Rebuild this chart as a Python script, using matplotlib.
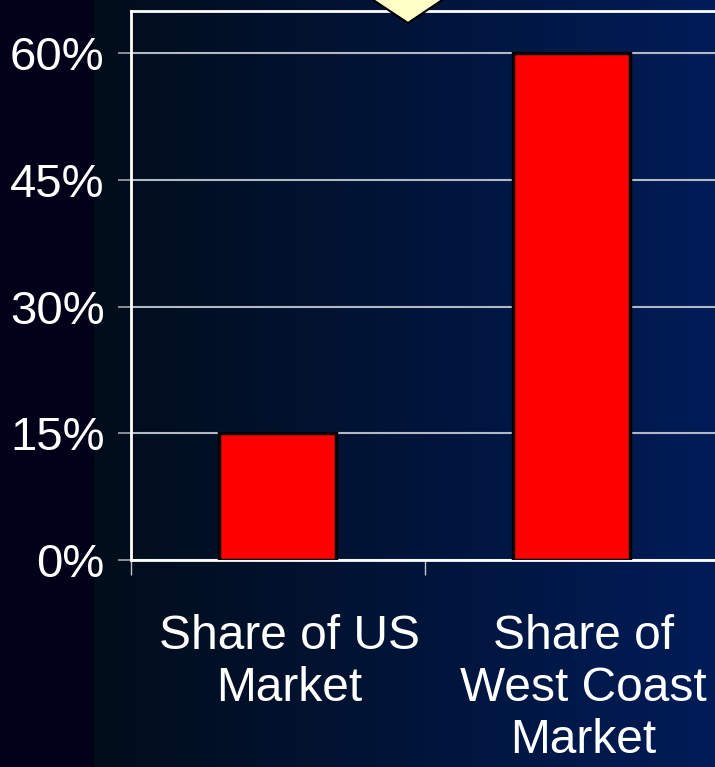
import numpy as np
import matplotlib.pyplot as plt
from matplotlib.patches import Polygon
from matplotlib.transforms import ScaledTranslation

categories = ["Share of US\nMarket", "Share of\nWest Coast\nMarket"]
shares = [15, 60]
yticks = [0, 15, 30, 45, 60]

W, H = 715, 767
plt.rcParams['font.family'] = ['Liberation Sans', 'DejaVu Sans']

fig = plt.figure(figsize=(W / 100, H / 100), dpi=100)

# slide background: dark strip on the left, then a navy gradient
bg = fig.add_axes([0, 0, 1, 1], zorder=-10)
bg.axis('off')
px = np.arange(W)
t = np.clip((px - 94) / (W - 94), 0, 1)
c0 = np.array([0x02, 0x0d, 0x1a]) / 255
c1 = np.array([0x00, 0x1c, 0x58]) / 255
row = c0 + (c1 - c0) * t[:, None]
row[px < 94] = np.array([0x03, 0x00, 0x1a]) / 255
img = np.repeat(row[None, :, :], H, axis=0)
bg.imshow(img, aspect='auto', extent=[0, 1, 0, 1])
bg.set_xlim(0, 1)
bg.set_ylim(0, 1)

ax = fig.add_axes([131 / W, 1 - 560 / H, (718 - 131) / W, (560 - 11) / H])
ax.set_facecolor('none')
x = np.arange(len(shares))
ax.bar(x, shares, width=0.4, color='#ff0000', edgecolor='black', linewidth=2.5, zorder=3)
ax.set_xlim(-0.5, 1.5)
ax.set_ylim(0, 65)

ax.set_yticks(yticks, [f"{v}%" for v in yticks])
ax.yaxis.grid(True, color='#b4b8c4', linewidth=1.5)
ax.set_axisbelow(True)
ax.tick_params(axis='y', colors='white', labelsize=34, length=9.5, width=1.2,
               pad=9.5, color='#a0a4b0')

ax.set_xticks(x, categories)
ax.tick_params(axis='x', which='major', length=0, labelsize=34.5, labelcolor='white', pad=39)
ax.set_xticks([-0.5, 0.5, 1.5], minor=True)
ax.tick_params(axis='x', which='minor', length=11, width=1, color='#c0c4cc')
for lab in ax.get_xticklabels():
    lab.set_linespacing(1.2)
    lab.set_transform(lab.get_transform() + ScaledTranslation(0.12, 0, fig.dpi_scale_trans))

for s in ax.spines.values():
    s.set_color('white')
    s.set_linewidth(2)

# callout pointer hanging over the top of the plot
pts = [(355, -12), (408, 23), (460, -12)]
tip = Polygon([(a / W, 1 - b / H) for a, b in pts], closed=True,
              facecolor='#ffffc8', edgecolor='black', linewidth=1.5,
              transform=fig.transFigure, zorder=10)
fig.patches.append(tip)

fig.savefig('out.png', dpi=100)
